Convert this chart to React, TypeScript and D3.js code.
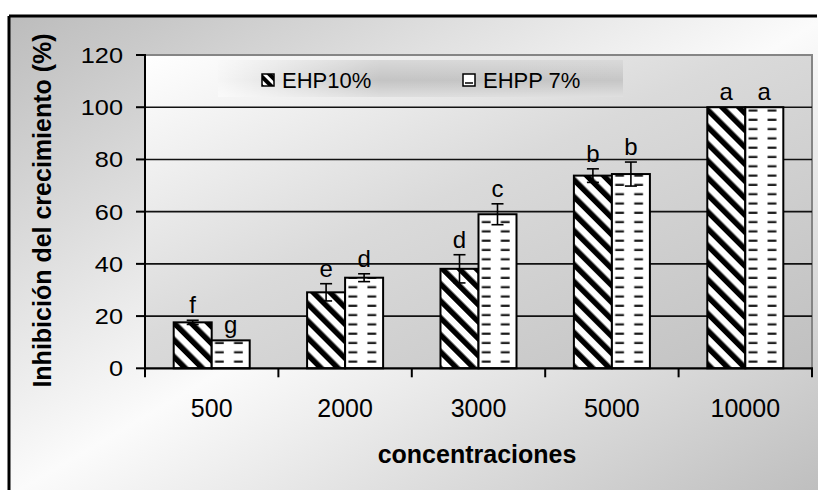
import React from "react";
import * as d3 from "d3";

const categories = ["500", "2000", "3000", "5000", "10000"];
const seriesNames = ["EHP10%", "EHPP 7%"];
const ehp10 = [17.6, 29.1, 38.1, 73.8, 100];
const ehpp7 = [10.7, 34.7, 59.0, 74.4, 100];
const ehp10Err = [0.8, 3.3, 5.4, 2.6, 0];
const ehpp7Err = [0, 1.5, 4.0, 4.6, 0];
const ehp10Letters = ["f", "e", "d", "b", "a"];
const ehpp7Letters = ["g", "d", "c", "b", "a"];
const yTicks = [0, 20, 40, 60, 80, 100, 120];

const W = 818;
const H = 490;
const PL = 145;
const PR = 812;
const PT = 55;
const PB = 368.3;
const FONT = "'Liberation Sans', Arial, sans-serif";

export default function App() {
  const x = d3.scaleBand<string>().domain(categories).range([PL, PR]).padding(0);
  const inner = d3
    .scaleBand<string>()
    .domain(seriesNames)
    .range([0, x.bandwidth()])
    .paddingInner(0)
    .paddingOuter(0.755);
  const y = d3.scaleLinear().domain([0, 120]).range([PB, PT]);
  const bw = inner.bandwidth();

  const series = [
    { name: seriesNames[0], values: ehp10, errs: ehp10Err, letters: ehp10Letters },
    { name: seriesNames[1], values: ehpp7, errs: ehpp7Err, letters: ehpp7Letters },
  ];

  const bars = series.flatMap((s, si) =>
    categories.map((c, ci) => ({
      si,
      ci,
      x0: (x(c) as number) + (inner(s.name) as number),
      v: s.values[ci],
      e: s.errs[ci],
      letter: s.letters[ci],
    }))
  );

  return (
    <svg
      width={W}
      height={H}
      style={{ position: "absolute", left: 0, top: 0, display: "block" }}
      fontFamily={FONT}
    >
      <defs>
        <linearGradient id="outerGrad" x1="0" y1="0" x2="1" y2="1">
          <stop offset="0" stopColor="#bcbcbc" />
          <stop offset="0.5" stopColor="#fbfbfb" />
          <stop offset="1" stopColor="#bdbdbd" />
        </linearGradient>
        <linearGradient id="plotGrad" x1="0" y1="0" x2="1" y2="1">
          <stop offset="0" stopColor="#ffffff" />
          <stop offset="0.45" stopColor="#dadada" />
          <stop offset="1" stopColor="#c0c0c0" />
        </linearGradient>
        <linearGradient id="legGradH" x1="0" y1="0" x2="1" y2="0">
          <stop offset="0" stopColor="#f6f6f6" />
          <stop offset="0.4" stopColor="#c4c4c4" />
          <stop offset="1" stopColor="#c6c6c6" />
        </linearGradient>
        <linearGradient id="legGradV" x1="0" y1="0" x2="0" y2="1">
          <stop offset="0" stopColor="#ffffff" stopOpacity="0.35" />
          <stop offset="0.55" stopColor="#ffffff" stopOpacity="0" />
          <stop offset="1" stopColor="#ffffff" stopOpacity="0.45" />
        </linearGradient>
        <pattern
          id="stripes"
          patternUnits="userSpaceOnUse"
          width="12"
          height="12"
          patternTransform="rotate(-45)"
        >
          <rect width="12" height="12" fill="#fff" />
          <rect width="5.5" height="12" fill="#000" />
        </pattern>
        <pattern
          id="stripesSmall"
          patternUnits="userSpaceOnUse"
          width="7"
          height="7"
          patternTransform="rotate(-45)"
        >
          <rect width="7" height="7" fill="#000" />
          <rect width="3" height="7" fill="#fff" />
        </pattern>
        {bars
          .filter((b) => b.si === 1)
          .map((b) => (
            <pattern
              key={"dp" + b.ci}
              id={"dash" + b.ci}
              patternUnits="userSpaceOnUse"
              x={b.x0}
              y={PB}
              width={bw / 2}
              height="9.3"
            >
              <rect width={bw / 2} height="9.3" fill="#fff" />
              <rect x="3.3" y="1.5" width="8.8" height="2.2" fill="#1a1a1a" />
            </pattern>
          ))}
      </defs>

      {/* outer chart area */}
      <rect x={9} y={16} width={820} height={480} fill="url(#outerGrad)" />
      <line x1={9} y1={16} x2={817} y2={16} stroke="#000" strokeWidth={3} />
      <line x1={9} y1={16} x2={9} y2={H + 5} stroke="#000" strokeWidth={3} />

      {/* plot area */}
      <rect x={PL} y={PT} width={PR - PL} height={PB - PT} fill="url(#plotGrad)" />
      <polyline
        points={`${PL},${PT} ${PR},${PT} ${PR},${PB}`}
        fill="none"
        stroke="#858585"
        strokeWidth={2}
      />

      {/* gridlines */}
      {yTicks
        .filter((t) => t > 0 && t < 120)
        .map((t) => (
          <line key={"g" + t} x1={PL} x2={PR} y1={y(t)} y2={y(t)} stroke="#111" strokeWidth={1.6} />
        ))}

      {/* bars */}
      {bars.map((b) => (
        <rect
          key={"b" + b.si + "-" + b.ci}
          x={b.x0}
          y={y(b.v)}
          width={bw}
          height={PB - y(b.v)}
          fill={b.si === 0 ? "url(#stripes)" : `url(#dash${b.ci})`}
          stroke="#000"
          strokeWidth={2}
        />
      ))}

      {/* error bars */}
      {bars
        .filter((b) => b.e > 0)
        .map((b) => {
          const cx = b.x0 + bw / 2;
          const t = y(b.v + b.e);
          const bo = y(b.v - b.e);
          return (
            <g key={"e" + b.si + "-" + b.ci} stroke="#000" strokeWidth={1.6}>
              <line x1={cx} x2={cx} y1={t} y2={bo} />
              <line x1={cx - 6} x2={cx + 6} y1={t} y2={t} />
              <line x1={cx - 6} x2={cx + 6} y1={bo} y2={bo} />
            </g>
          );
        })}

      {/* letters */}
      {bars.map((b) => (
        <text
          key={"l" + b.si + "-" + b.ci}
          x={b.x0 + bw / 2}
          y={y(b.v + b.e) - 7}
          textAnchor="middle"
          fontSize={24}
          fill="#000"
        >
          {b.letter}
        </text>
      ))}

      {/* axes */}
      <line x1={PL} x2={PL} y1={PT - 1} y2={PB + 1} stroke="#000" strokeWidth={2} />
      <line x1={PL - 1} x2={PR + 1} y1={PB} y2={PB} stroke="#000" strokeWidth={2.2} />
      {yTicks.map((t) => (
        <g key={"yt" + t}>
          <line x1={PL - 9} x2={PL} y1={y(t)} y2={y(t)} stroke="#000" strokeWidth={2} />
          <text
            transform={`translate(123, ${y(t) + 8}) scale(1.15, 1)`}
            textAnchor="end"
            fontSize={22}
            fill="#000"
          >
            {t}
          </text>
        </g>
      ))}
      {[...categories.map((c) => x(c) as number), PR].map((px, i) => (
        <line key={"xt" + i} x1={px} x2={px} y1={PB} y2={PB + 9} stroke="#000" strokeWidth={2} />
      ))}
      {categories.map((c) => (
        <text
          key={"xl" + c}
          x={(x(c) as number) + x.bandwidth() / 2}
          y={417}
          textAnchor="middle"
          fontSize={25}
          fill="#000"
        >
          {c}
        </text>
      ))}

      {/* axis titles */}
      <text x={477} y={463} textAnchor="middle" fontSize={25} fontWeight="bold" fill="#000">
        concentraciones
      </text>
      <text
        transform={`translate(51, 210.5) rotate(-90)`}
        textAnchor="middle"
        fontSize={25}
        fontWeight="bold"
        fill="#000"
      >
        Inhibición del crecimiento (%)
      </text>

      {/* legend */}
      <rect x={218} y={60} width={405} height={37} fill="url(#legGradH)" />
      <rect x={218} y={60} width={405} height={37} fill="url(#legGradV)" />
      <rect x={262} y={74} width={12} height={12} fill="url(#stripesSmall)" stroke="#000" strokeWidth={1.5} />
      <text x={282} y={88} fontSize={22} fill="#000">
        {seriesNames[0]}
      </text>
      <rect x={463} y={74} width={12} height={12} fill="#fff" stroke="#000" strokeWidth={1.5} />
      <line x1={465} x2={473} y1={83} y2={83} stroke="#000" strokeWidth={1.5} />
      <text x={483} y={88} fontSize={22} fill="#000">
        {seriesNames[1]}
      </text>
    </svg>
  );
}
